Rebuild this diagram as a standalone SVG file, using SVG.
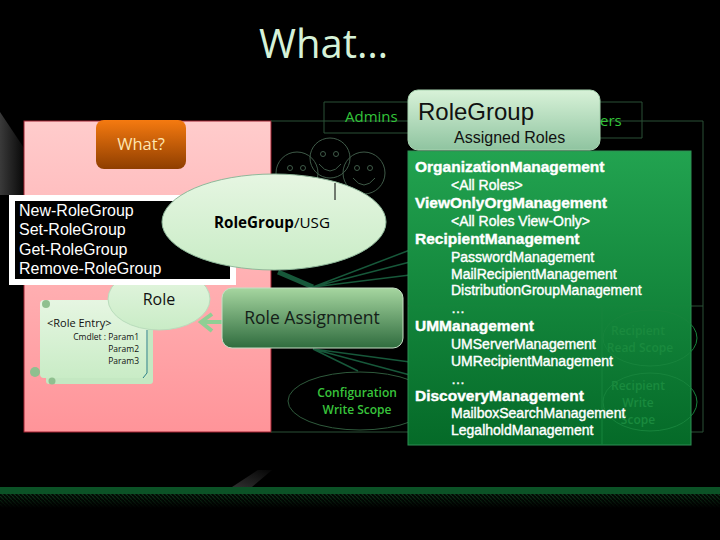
<svg xmlns="http://www.w3.org/2000/svg" width="720" height="540" viewBox="0 0 720 540">
<style>
.s{font-family:"Open Sans","Noto Sans",sans-serif}
.a{font-family:"Liberation Sans",Arial,sans-serif}
.ln{fill:none;stroke:#2a5036;stroke-width:1}
.fan{fill:none;stroke:#17583a;stroke-width:1.5}
.face{fill:none;stroke:#3f5a48;stroke-width:1}
.h{font-family:"Liberation Sans",Arial,sans-serif;font-size:15.5px;font-weight:700;fill:#fff;stroke:#fff;stroke-width:.4}
.i{font-family:"Liberation Sans",Arial,sans-serif;font-size:14px;fill:#fff;stroke:#fff;stroke-width:.4}
.cmd{font-family:"Liberation Sans",Arial,sans-serif;font-size:16px;fill:#fff}
.sc{font-family:"Open Sans","Noto Sans",sans-serif;font-size:12px;font-weight:600;fill:#39c43c;text-anchor:middle}
.sd{font-family:"Open Sans","Noto Sans",sans-serif;font-size:12px;font-weight:600;fill:#1a8a3e;text-anchor:middle}
.p{font-family:"Open Sans","Noto Sans",sans-serif;font-size:8.5px;fill:#111;text-anchor:end}
</style>
<defs>
<linearGradient id="pink" x1="0" y1="0" x2="0" y2="1"><stop offset="0" stop-color="#ffcccc"/><stop offset="1" stop-color="#ff9499"/></linearGradient>
<linearGradient id="or" x1="0" y1="0" x2="0" y2="1"><stop offset="0" stop-color="#f57a10"/><stop offset="1" stop-color="#8f3e00"/></linearGradient>
<linearGradient id="pale" x1="0" y1="0" x2="0" y2="1"><stop offset="0" stop-color="#e6f6e2"/><stop offset="1" stop-color="#c9ecc6"/></linearGradient>
<linearGradient id="rg" x1="0" y1="0" x2="0" y2="1"><stop offset="0" stop-color="#d8f2d8"/><stop offset="1" stop-color="#8fc4a0"/></linearGradient>
<linearGradient id="ra" x1="0" y1="0" x2="0" y2="1"><stop offset="0" stop-color="#a6d6a0"/><stop offset="1" stop-color="#2f6c3e"/></linearGradient>
<linearGradient id="gr" x1="0" y1="0" x2="0" y2="1"><stop offset="0" stop-color="#22a350"/><stop offset="1" stop-color="#056a28"/></linearGradient>
<linearGradient id="sh1" x1="0" y1="0" x2="1" y2="0"><stop offset="0" stop-color="#3a3a3a"/><stop offset="1" stop-color="#080808"/></linearGradient>
<linearGradient id="sh2" x1="0" y1="1" x2="1" y2="0"><stop offset="0" stop-color="#303030"/><stop offset="1" stop-color="#050505"/></linearGradient>
<pattern id="hatch" width="4" height="4" patternUnits="userSpaceOnUse"><rect width="4" height="4" fill="#020a04"/><path d="M0 0L4 4" stroke="#0f3a1c" stroke-width="1.2"/></pattern>
<linearGradient id="fade" x1="0" y1="0" x2="0" y2="1"><stop offset="0" stop-color="#000" stop-opacity="0"/><stop offset="1" stop-color="#000"/></linearGradient>
</defs>
<rect width="720" height="540" fill="#000"/>
<path d="M0 112L24 148V195H0Z" fill="url(#sh1)"/>
<path d="M232 487L258 470H272L252 487Z" fill="url(#sh2)"/>
<g id="footer">
<rect y="487" width="720" height="7" fill="#0b5226"/>
<rect y="494" width="720" height="14" fill="url(#hatch)"/>
<rect y="494" width="720" height="14" fill="url(#fade)"/>
</g>
<text id="title" class="s" x="259" y="58" font-size="40" fill="#d6f2d8">What…</text>
<g id="panel"><rect x="24" y="121" width="247" height="311" fill="url(#pink)" stroke="#a02030"/></g>
<g id="frames">
<path class="ln" d="M271 121H703V432H271M600 306H703M324 121V102H410M324 121V133H410M600 102H642V138H600"/>
</g>
<g id="connectors">
<path class="fan" d="M313 287L410 250M313 287L410 262M313 287L410 275M313 349L410 362M313 349L410 375M313 349L358 371"/>
<path d="M313 287L278 272" fill="none" stroke="#17583a" stroke-width="5"/>
<path d="M222 322H203" fill="none" stroke="#8fcf94" stroke-width="4"/>
<path d="M212 314L201 322L212 331" fill="none" stroke="#8fcf94" stroke-width="4"/>
</g>
<text id="admins" class="s" x="345" y="122" font-size="15" fill="#33c43a">Admins</text>
<text id="users" class="s" x="600" y="126" font-size="15" fill="#33c43a">ers</text>
<g id="users-faces">
<circle class="face" cx="297" cy="173" r="21"/><circle class="face" cx="330" cy="158" r="20"/><circle class="face" cx="364" cy="173" r="21"/>
<circle class="face" cx="290" cy="168" r="2.5"/><circle class="face" cx="303" cy="168" r="2.5"/>
<circle class="face" cx="323" cy="154" r="2.5"/><circle class="face" cx="336" cy="154" r="2.5"/>
<circle class="face" cx="357" cy="168" r="2.5"/><circle class="face" cx="370" cy="168" r="2.5"/>
<path class="face" d="M319 164Q330 178 341 164M353 178Q364 192 375 178"/>
</g>
<g id="what"><rect x="96" y="120" width="90" height="49" rx="8" fill="url(#or)"/>
<text class="s" x="141" y="150" font-size="16.5" fill="#ffe6b0" text-anchor="middle">What?</text></g>
<g id="role-entry">
<rect x="46" y="306" width="107" height="78" rx="3" fill="#c4e8c2"/>
<rect x="40" y="300" width="108" height="78" rx="4" fill="url(#pale)"/>
<circle cx="35" cy="372" r="5" fill="#8fc08f"/><circle cx="46" cy="304" r="4" fill="#8fc08f"/><circle cx="52" cy="381" r="3.5" fill="#8fc08f"/>
<path d="M147 330V373L143 378" fill="none" stroke="#2a7f86"/>
<text class="s" x="47" y="327" font-size="11" fill="#111">&lt;Role Entry&gt;</text>
<text class="p" x="139" y="340">Cmdlet : Param1</text>
<text class="p" x="139" y="352">Param2</text>
<text class="p" x="139" y="364">Param3</text>
</g>
<g id="role"><ellipse cx="159" cy="299" rx="51" ry="31" fill="url(#pale)" stroke="#b9dcbc"/>
<text class="s" x="159" y="305" font-size="16" fill="#111" text-anchor="middle">Role</text></g>
<g id="cmdlets"><rect x="12" y="198" width="221" height="84" fill="#000" stroke="#fff" stroke-width="6"/>
<text class="cmd" x="19" y="216">New-RoleGroup</text>
<text class="cmd" x="19" y="235">Set-RoleGroup</text>
<text class="cmd" x="19" y="255">Get-RoleGroup</text>
<text class="cmd" x="19" y="274">Remove-RoleGroup</text></g>
<g id="usg"><ellipse cx="274" cy="222" rx="112" ry="48" fill="url(#pale)" stroke="#8fb89a"/>
<text class="s" x="214" y="228" font-size="15.2" fill="#000" font-weight="700">RoleGroup<tspan font-weight="400">/USG</tspan></text>
<path d="M335 183V200" stroke="#000" stroke-width="1"/></g>
<g id="assignment"><rect x="222" y="288" width="181" height="60" rx="10" fill="url(#ra)" stroke="#c5e0c5"/>
<text class="s" x="312" y="324" font-size="17.5" fill="#142018" text-anchor="middle">Role Assignment</text></g>
<g id="config"><ellipse cx="360" cy="401" rx="72" ry="29" fill="#000" stroke="#2f5a3c"/>
<text class="sc" x="357" y="397">Configuration</text><text class="sc" x="357" y="414">Write Scope</text></g>
<g id="assigned"><rect x="408" y="151" width="283" height="294" fill="url(#gr)" stroke="#2f8f55"/>
<ellipse cx="650" cy="338" rx="47" ry="28" fill="none" stroke="#17843c"/>
<ellipse cx="650" cy="402" rx="47" ry="29" fill="none" stroke="#17843c"/>
<path d="M408 306H691M602 306V445" stroke="#17843c" fill="none"/>
<text class="sd" x="638" y="335">Recipient</text><text class="sd" x="640" y="352">Read Scope</text>
<text class="sd" x="638" y="390">Recipient</text><text class="sd" x="638" y="407">Write</text><text class="sd" x="638" y="424">Scope</text>
<text class="h" x="415" y="172">OrganizationManagement</text>
<text class="i" x="451" y="190">&lt;All Roles&gt;</text>
<text class="h" x="415" y="208">ViewOnlyOrgManagement</text>
<text class="i" x="451" y="226">&lt;All Roles View-Only&gt;</text>
<text class="h" x="415" y="244">RecipientManagement</text>
<text class="i" x="451" y="262">PasswordManagement</text>
<text class="i" x="451" y="279">MailRecipientManagement</text>
<text class="i" x="451" y="295">DistributionGroupManagement</text>
<text class="i" x="451" y="313">…</text>
<text class="h" x="415" y="331">UMManagement</text>
<text class="i" x="451" y="349">UMServerManagement</text>
<text class="i" x="451" y="366">UMRecipientManagement</text>
<text class="i" x="451" y="384">…</text>
<text class="h" x="415" y="401">DiscoveryManagement</text>
<text class="i" x="451" y="418">MailboxSearchManagement</text>
<text class="i" x="451" y="435">LegalholdManagement</text>
</g>
<g id="rolegroup"><rect x="408" y="90" width="192" height="60" rx="10" fill="url(#rg)" stroke="#a8d4b0"/>
<text class="a" x="418" y="120" font-size="24" fill="#111">RoleGroup</text>
<text class="a" x="454" y="143" font-size="16" fill="#111">Assigned Roles</text></g>
</svg>
